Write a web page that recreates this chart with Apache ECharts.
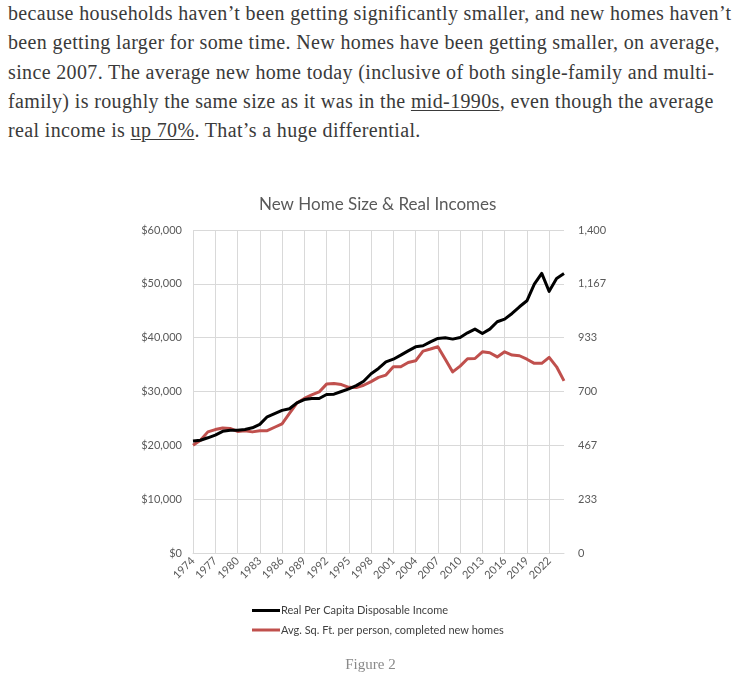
<!DOCTYPE html>
<html>
<head>
<meta charset="utf-8">
<script src="https://cdn.jsdelivr.net/npm/echarts@6/dist/echarts.min.js"></script>
<style>
  html, body { margin: 0; padding: 0; background: #fff; width: 741px; height: 682px; overflow: hidden; }
  #text { position: absolute; left: 8px; top: -1px; font-family: "Liberation Serif", serif; font-size: 20px; letter-spacing: 0.36px; line-height: 29.3px; color: #3a3a3a; white-space: nowrap; }
  #text u { text-decoration: underline; text-underline-offset: 2px; text-decoration-thickness: 1px; }
  #chart { position: absolute; left: 0; top: 0; width: 741px; height: 682px; }
  #cap { position: absolute; left: 0; width: 741px; top: 656px; text-align: center; font-family: "Liberation Serif", serif; font-size: 15px; color: #8a8a8a; }
</style>
</head>
<body>
<div id="text">because households haven’t been getting significantly smaller, and new homes haven’t<br>been getting larger for some time. New homes have been getting smaller, on average,<br>since 2007. The average new home today (inclusive of both single-family and multi-<br>family) is roughly the same size as it was in the <u>mid-1990s</u>, even though the average<br>real income is <u>up 70%</u>. That’s a huge differential.</div>
<div id="chart"></div>
<div id="cap">Figure 2</div>
<script>
const years = [];
for (let y = 1974; y <= 2024; y++) years.push(String(y));

const income = [20800, 20950, 21400, 21900, 22600, 22800, 22800, 22950, 23250, 23900,
  25300, 25900, 26500, 26800, 27900, 28500, 28700, 28700, 29450, 29500,
  30000, 30500, 31100, 31900, 33300, 34280, 35500, 36000, 36750, 37550,
  38300, 38500, 39230, 39860, 39970, 39730, 40040, 40900, 41590, 40780,
  41590, 42950, 43440, 44500, 45740, 46850, 49950, 51940, 48600, 51000, 51900];

const sqft = [467, 489, 525, 535, 542, 540, 527, 530, 525, 530,
  530, 545, 560, 605, 650, 670, 685, 698, 732, 735,
  730, 718, 717, 727, 743, 761, 771, 807, 807, 826,
  833, 875, 884, 894, 840, 785, 810, 842, 843, 872,
  868, 850, 872, 858, 855, 840, 822, 822, 848, 807, 746];

const leftTicks = { min: 0, max: 60000, interval: 10000 };
const rightTicks = { min: 0, max: 1400, interval: 1400 / 6 };

const seriesNames = ['Real Per Capita Disposable Income', 'Avg. Sq. Ft. per person, completed new homes'];

const chart = echarts.init(document.getElementById('chart'), null, { renderer: 'canvas' });
const labelColor = '#595959';
const font = 'Lato, "Open Sans", sans-serif';
chart.setOption({
  animation: false,
  title: {
    text: 'New Home Size & Real Incomes',
    left: 254, top: 191,
    textStyle: { fontFamily: font, fontSize: 17, fontWeight: 'normal', color: '#595959' }
  },
  grid: { left: 193, top: 230, width: 371, height: 323, containLabel: false },
  legend: {
    orient: 'vertical', left: 247, top: 600, itemGap: 8.5,
    icon: 'rect', itemWidth: 28, itemHeight: 3,
    textStyle: { fontFamily: font, fontSize: 11, color: '#404040', padding: [0, 0, 0, -4] },
    data: seriesNames
  },
  xAxis: {
    type: 'category', data: years, boundaryGap: false,
    axisLine: { show: true, lineStyle: { color: '#d9d9d9', width: 1 } },
    axisTick: { show: false },
    axisLabel: { interval: 2, rotate: 45, fontFamily: font, fontSize: 11, color: labelColor, margin: 6 },
    splitLine: { show: true, interval: 2, lineStyle: { color: '#d9d9d9', width: 1 } }
  },
  yAxis: [
    {
      type: 'value', min: leftTicks.min, max: leftTicks.max, interval: leftTicks.interval,
      axisLine: { show: false }, axisTick: { show: false },
      axisLabel: { fontFamily: font, fontSize: 11, color: labelColor, margin: 11,
        formatter: v => '$' + Math.round(v).toLocaleString('en-US') },
      splitLine: { show: true, lineStyle: { color: '#d9d9d9', width: 1 } }
    },
    {
      type: 'value', min: rightTicks.min, max: rightTicks.max, interval: rightTicks.interval,
      axisLine: { show: false }, axisTick: { show: false },
      axisLabel: { fontFamily: font, fontSize: 11, color: labelColor, margin: 14,
        formatter: v => Math.round(v).toLocaleString('en-US') },
      splitLine: { show: false }
    }
  ],
  series: [
    { name: seriesNames[0], type: 'line', data: income, yAxisIndex: 0, symbol: 'none',
      lineStyle: { color: '#000000', width: 3, join: 'round' }, itemStyle: { color: '#000000' }, z: 3 },
    { name: seriesNames[1], type: 'line', data: sqft, yAxisIndex: 1, symbol: 'none',
      lineStyle: { color: '#c0504d', width: 3, join: 'round' }, itemStyle: { color: '#c0504d' }, z: 2 }
  ]
});
</script>
</body>
</html>
